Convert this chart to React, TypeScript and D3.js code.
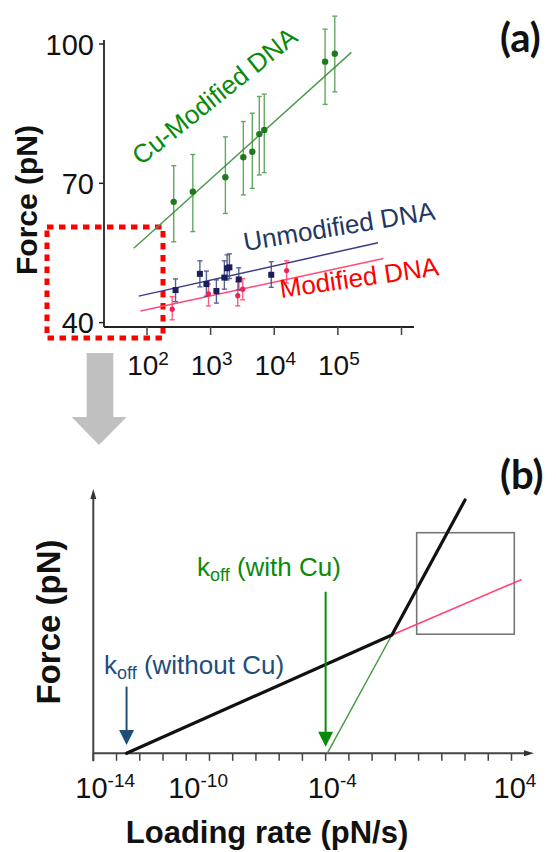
import React from 'react'
import * as d3 from 'd3'

const W = 556
const H = 852
const FONT = '"Liberation Sans", Arial, sans-serif'

// (a) measured rupture forces: loading rate (pN/s), force (pN), error bar ends
const cuRate = [263, 525, 1706, 3266, 4519, 5821, 6970, 63000, 89400]
const cuForce = [66.0, 68.2, 71.3, 75.6, 76.8, 80.6, 81.5, 96.2, 97.9]
const cuLow = [57.4, 59.6, 63.5, 67.5, 68.9, 71.8, 72.3, 87.0, 89.7]
const cuHigh = [73.8, 76.2, 80.0, 83.3, 85.1, 88.7, 89.2, 103.2, 106.0]
const cuFitRate = [62, 163000]
const cuFitForce = [56.0, 98.2]

const unRate = [281, 678, 859, 1233, 1644, 1815, 1972, 2767, 8975]
const unForce = [47.0, 50.5, 48.3, 46.8, 49.7, 51.7, 51.9, 49.3, 50.3]
const unLow = [44.5, 47.7, 45.7, 44.2, 47.2, 49.2, 49.5, 47.0, 47.6]
const unHigh = [49.4, 53.3, 51.1, 49.2, 53.3, 54.6, 54.8, 51.8, 53.1]
const unFitRate = [74, 427000]
const unFitForce = [45.7, 57.2]

const modRate = [249, 925, 2668, 3196, 15640]
const modForce = [42.9, 46.2, 45.8, 47.2, 51.2]
const modLow = [40.6, 43.6, 43.6, 44.9, 48.5]
const modHigh = [45.6, 48.3, 48.8, 49.5, 53.3]
const modFitRate = [79, 519000]
const modFitForce = [42.5, 53.8]

const yTicksA = [40, 70, 100]
const xTicksA = [1e2, 1e3, 1e4, 1e5, 1e6]
const xLabelExpA = [2, 3, 4, 5]

// (b) schematic, force in arbitrary units
const envRate = [2.7e-13, 0.071, 100]
const envForce = [0, 45.1, 96.6]
const cuLineRate = [1.17e-4, 0.071]
const cuLineForce = [0, 45.1]
const noCuExtRate = [0.071, 27500]
const noCuExtForce = [45.1, 66.3]
const boxRate = [0.83, 13200]
const boxForce = [45.4, 84.1]
const koffNoCu = 2.7e-13
const koffCu = 1e-4
const koffNoCuArrow = [25.4, 3.2]
const koffCuArrow = [61.6, 2.5]
const xLabelExpB = [-14, -10, -4, 4]

const xA = d3.scaleLog().domain([1e2, 1e6]).range([147, 401.5])
const yA = d3.scaleLinear().domain([40, 100]).range([322.6, 44])
const xB = d3.scaleLog().domain([1e-14, 1e4]).range([93.3, 511.5])
const yB = d3.scaleLinear().domain([0, 100]).range([753.3, 491])

type Pt = [number, number]
const lineA = d3.line<Pt>().x(d => xA(d[0])).y(d => yA(d[1]))
const lineB = d3.line<Pt>().x(d => xB(d[0])).y(d => yB(d[1]))
const zip = (a: number[], b: number[]): Pt[] => a.map((v, i) => [v, b[i]])

function ErrorBars({ rate, low, high, color, opacity }: any) {
  return (
    <g stroke={color} strokeWidth={1.4} opacity={opacity}>
      {rate.map((r: number, i: number) => {
        const x = xA(r)
        return (
          <g key={i}>
            <line x1={x} x2={x} y1={yA(low[i])} y2={yA(high[i])} />
            <line x1={x - 2.5} x2={x + 2.5} y1={yA(low[i])} y2={yA(low[i])} />
            <line x1={x - 2.5} x2={x + 2.5} y1={yA(high[i])} y2={yA(high[i])} />
          </g>
        )
      })}
    </g>
  )
}

export default function App() {
  const axisA = { x0: 104, x1: 414, y0: 40, y1: 327 }
  const axisB = { x0: 93.3, x1: 532, yTop: 491, yBase: 753.3 }

  return (
    <svg width={W} height={H} viewBox={`0 0 ${W} ${H}`}
      style={{ position: 'absolute', left: 0, top: 0, background: '#fff' }}
      fontFamily={FONT}>
      {/* ---------- panel (a) ---------- */}
      <g>
        {/* red dotted zoom box */}
        <rect x={47} y={227} width={116} height={111} fill="none" stroke="#ff0000"
          strokeWidth={5} strokeDasharray="6.5 5.5" />

        {/* axes */}
        <line x1={axisA.x0} x2={axisA.x0} y1={axisA.y0} y2={axisA.y1} stroke="#222" strokeWidth={1.8} />
        <line x1={axisA.x0} x2={axisA.x1} y1={axisA.y1} y2={axisA.y1} stroke="#222" strokeWidth={1.8} />
        {yTicksA.map(t => (
          <g key={t}>
            <line x1={axisA.x0 - 5} x2={axisA.x0} y1={yA(t)} y2={yA(t)} stroke="#222" strokeWidth={1.5} />
            <text x={94} y={yA(t) + 10.5} textAnchor="end" fontSize={29} fill="#111">{t}</text>
          </g>
        ))}
        {xTicksA.map(t => (
          <line key={t} x1={xA(t)} x2={xA(t)} y1={axisA.y1} y2={axisA.y1 + 8} stroke="#444" strokeWidth={1.5} />
        ))}
        {xLabelExpA.map(e => (
          <text key={e} x={xA(Math.pow(10, e)) + 1} y={375} textAnchor="middle" fontSize={28} fill="#111">
            10<tspan dy={-10} fontSize={19}>{e}</tspan>
          </text>
        ))}
        <text transform="translate(37,200) rotate(-90)" textAnchor="middle" fontSize={30}
          fontWeight="bold" fill="#111">Force (pN)</text>

        {/* fits */}
        <path d={lineA(zip(cuFitRate, cuFitForce)) || ''} stroke="#4f9a4f" strokeWidth={1.5} fill="none" />
        <path d={lineA(zip(unFitRate, unFitForce)) || ''} stroke="#3b3b8c" strokeWidth={1.5} fill="none" />
        <path d={lineA(zip(modFitRate, modFitForce)) || ''} stroke="#ff4a78" strokeWidth={1.5} fill="none" />

        {/* data */}
        <ErrorBars rate={cuRate} low={cuLow} high={cuHigh} color="#2e8b2e" opacity={0.75} />
        <ErrorBars rate={unRate} low={unLow} high={unHigh} color="#3a4680" opacity={0.85} />
        <ErrorBars rate={modRate} low={modLow} high={modHigh} color="#ff3d6e" opacity={0.85} />
        {cuRate.map((r, i) => (
          <circle key={i} cx={xA(r)} cy={yA(cuForce[i])} r={3.2} fill="#1f7a1f" />
        ))}
        {unRate.map((r, i) => (
          <rect key={i} x={xA(r) - 3} y={yA(unForce[i]) - 3} width={6} height={6} fill="#1a1f5c" />
        ))}
        {modRate.map((r, i) => (
          <circle key={i} cx={xA(r)} cy={yA(modForce[i])} r={2.6} fill="#e8245a" />
        ))}

        <text transform="translate(141,166) rotate(-38.5)" fontSize={26} fill="#0a8a0a">Cu-Modified DNA</text>
        <text transform="translate(245,251) rotate(-9.4)" fontSize={26} fill="#1f3864">Unmodified DNA</text>
        <text transform="translate(281,298) rotate(-8.2)" fontSize={26} fill="#ff0000">Modified DNA</text>

        <text x={500} y={52} fontSize={40} fontWeight="bold" fontFamily="Lato, sans-serif" fill="#111">(a)</text>
      </g>

      {/* gray arrow between panels */}
      <polygon points="86.7,353 113.3,353 113.3,417 126.7,417 99,445 71.7,417 86.7,417" fill="#c0c0c0" />

      {/* ---------- panel (b) ---------- */}
      <g>
        <line x1={axisB.x0} x2={axisB.x0} y1={axisB.yTop + 4} y2={axisB.yBase + 8} stroke="#444" strokeWidth={2} />
        <polygon points={`${axisB.x0 - 3},${axisB.yTop + 8} ${axisB.x0 + 3},${axisB.yTop + 8} ${axisB.x0},${axisB.yTop - 2}`} fill="#333" />
        <line x1={axisB.x0} x2={axisB.x1 - 4} y1={axisB.yBase} y2={axisB.yBase} stroke="#444" strokeWidth={2} />
        <polygon points={`${axisB.x1 - 8},${axisB.yBase - 3} ${axisB.x1 - 8},${axisB.yBase + 3} ${axisB.x1 + 2},${axisB.yBase}`} fill="#333" />
        {d3.range(-14, 5).map(e => (
          <line key={e} x1={xB(Math.pow(10, e))} x2={xB(Math.pow(10, e))} y1={axisB.yBase} y2={axisB.yBase + 7.5}
            stroke="#444" strokeWidth={1.5} />
        ))}
        {xLabelExpB.map(e => (
          <text key={e} x={xB(Math.pow(10, e)) - 18} y={798} fontSize={29} fill="#111">
            10<tspan dy={-11} fontSize={19}>{e}</tspan>
          </text>
        ))}

        {/* zoom box */}
        <rect x={xB(boxRate[0])} y={yB(boxForce[1])} width={xB(boxRate[1]) - xB(boxRate[0])}
          height={yB(boxForce[0]) - yB(boxForce[1])} fill="none" stroke="#777" strokeWidth={1.6} />

        <path d={lineB(zip(noCuExtRate, noCuExtForce)) || ''} stroke="#ff4577" strokeWidth={1.6} fill="none" />
        <path d={lineB(zip(cuLineRate, cuLineForce)) || ''} stroke="#3f9a3f" strokeWidth={1.4} fill="none" />
        <path d={lineB(zip(envRate, envForce)) || ''} stroke="#111" strokeWidth={3.2} fill="none" strokeLinecap="round" />

        {/* koff arrows */}
        <line x1={xB(koffCu)} x2={xB(koffCu)} y1={yB(koffCuArrow[0])} y2={yB(koffCuArrow[1]) - 10}
          stroke="#0a8a0a" strokeWidth={2} />
        <polygon points={`${xB(koffCu) - 7.5},${yB(koffCuArrow[1]) - 15} ${xB(koffCu) + 7.5},${yB(koffCuArrow[1]) - 15} ${xB(koffCu)},${yB(koffCuArrow[1])}`}
          fill="#0a8a0a" />
        <line x1={xB(koffNoCu)} x2={xB(koffNoCu)} y1={yB(koffNoCuArrow[0])} y2={yB(koffNoCuArrow[1]) - 10}
          stroke="#1f4e79" strokeWidth={2} />
        <polygon points={`${xB(koffNoCu) - 7.5},${yB(koffNoCuArrow[1]) - 15} ${xB(koffNoCu) + 7.5},${yB(koffNoCuArrow[1]) - 15} ${xB(koffNoCu)},${yB(koffNoCuArrow[1])}`}
          fill="#1f4e79" />

        <text x={197} y={576} fontSize={26} fill="#0a8a0a">
          k<tspan dy={5} fontSize={18}>off</tspan><tspan dy={-5}> (with Cu)</tspan>
        </text>
        <text x={104} y={674} fontSize={26} fill="#1f4e79">
          k<tspan dy={5} fontSize={18}>off</tspan><tspan dy={-5}> (without Cu)</tspan>
        </text>

        <text transform="translate(60,622) rotate(-90)" textAnchor="middle" fontSize={33}
          fontWeight="bold" fill="#111">Force (pN)</text>
        <text x={267} y={843} textAnchor="middle" fontSize={31} fontWeight="bold" fill="#111">Loading rate (pN/s)</text>

        <text x={500} y={489} fontSize={40} fontWeight="bold" fontFamily="Lato, sans-serif" fill="#111">(b)</text>
      </g>
    </svg>
  )
}
